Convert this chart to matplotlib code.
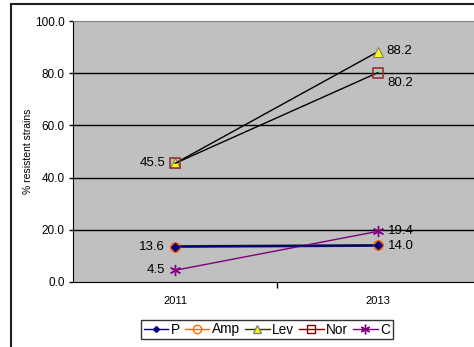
import matplotlib
matplotlib.use('Agg')
import matplotlib.pyplot as plt
from matplotlib.lines import Line2D
from matplotlib.patches import Rectangle

years = ['2011', '2013']
p_vals = [13.6, 14.0]
amp_vals = [13.6, 14.0]
lev_vals = [45.5, 88.2]
nor_vals = [45.5, 80.2]
c_vals = [4.5, 19.4]
yticks = [0, 20, 40, 60, 80, 100]


def main():
    plt.rcParams['font.family'] = ['Liberation Sans', 'DejaVu Sans']
    fig = plt.figure(figsize=(4.74, 3.47), dpi=100)
    ax = fig.add_axes([73 / 474, 65 / 347, 406 / 474, 261 / 347])
    ax.set_facecolor('#C0C0C0')

    x = list(range(len(years)))
    ax.plot(x, amp_vals, color='#1a1a3a', lw=2, marker='o', ms=6.5,
            mfc='none', mec='#FF6600', mew=1.3, zorder=3)
    ax.plot(x, p_vals, color='#000080', lw=1, marker='D', ms=4,
            mfc='#000080', mec='#000080', zorder=4)
    ax.plot(x, lev_vals, color='black', lw=1, marker='^', ms=7,
            mfc='#FFFF00', mec='#808080', mew=0.8, zorder=3)
    ax.plot(x, nor_vals, color='black', lw=1, marker='s', ms=7,
            mfc='none', mec='#993333', mew=1.2, zorder=4)
    ax.plot(x, c_vals, color='#800080', lw=1, marker=(6, 2, 0), ms=8,
            mec='#800080', mew=1, zorder=3)

    lbl = dict(textcoords='offset pixels', fontsize=9.5, va='center')
    ax.annotate('45.5', (0, lev_vals[0]), xytext=(-10, 0), ha='right', **lbl)
    ax.annotate('13.6', (0, p_vals[0]), xytext=(-10, 0), ha='right', **lbl)
    ax.annotate('4.5', (0, c_vals[0]), xytext=(-10, 0), ha='right', **lbl)
    ax.annotate('88.2', (1, lev_vals[1]), xytext=(9, 1), ha='left', **lbl)
    ax.annotate('80.2', (1, nor_vals[1]), xytext=(10, -10), ha='left', **lbl)
    ax.annotate('19.4', (1, c_vals[1]), xytext=(10, 0), ha='left', **lbl)
    ax.annotate('14.0', (1, p_vals[1]), xytext=(10, -1), ha='left', **lbl)

    ax.set_xlim(-0.505, 1.5)
    ax.set_ylim(0, 100)
    ax.set_yticks(yticks)
    ax.set_yticklabels([f'{v:.1f}' for v in yticks], fontsize=8.5)
    ax.tick_params(axis='y', length=3, width=1, pad=3)
    ax.set_xticks(x)
    ax.set_xticklabels(years, fontsize=8)
    ax.tick_params(axis='x', length=0, pad=10)
    ax.set_xticks([0.5], minor=True)
    ax.tick_params(axis='x', which='minor', length=4, width=1, direction='out')
    for v in yticks[1:-1]:
        ax.axhline(v, color='black', lw=1, zorder=1)
    ax.spines['top'].set_color('#808080')
    ax.spines['right'].set_color('#808080')
    ax.spines['left'].set_color('black')
    ax.spines['bottom'].set_color('black')
    ax.set_ylabel('% resistent strains', fontsize=7.5)
    ax.yaxis.set_label_coords(-0.098, 0.5)

    handles = [
        Line2D([], [], color='#000080', lw=1, marker='D', ms=3, mfc='#000080', mec='#000080'),
        Line2D([], [], color='#FF6600', lw=1, marker='o', ms=6, mfc='none', mec='#FF6600'),
        Line2D([], [], color='#333300', lw=1, marker='^', ms=6, mfc='#FFFF00', mec='#808080'),
        Line2D([], [], color='#800000', lw=1, marker='s', ms=6, mfc='none', mec='#800000'),
        Line2D([], [], color='#800080', lw=1, marker=(6, 2, 0), ms=7, mec='#800080'),
    ]
    leg = fig.legend(handles, ['P', 'Amp', 'Lev', 'Nor', 'C'], loc='center',
                     bbox_to_anchor=(267 / 474, 1 - 329.5 / 347), ncol=5,
                     fontsize=9.8, handlelength=1.8, handletextpad=0.2,
                     columnspacing=0.35, borderpad=0.2, fancybox=False,
                     frameon=True, edgecolor='black')
    leg.get_frame().set_linewidth(1)

    fig.patches.append(Rectangle((11 / 474, -0.1), 1.2, 1.1 - 4 / 347,
                                 transform=fig.transFigure, fill=False,
                                 edgecolor='#202020', lw=1.5))

    fig.savefig('out.png', dpi=100)


if __name__ == '__main__':
    main()
